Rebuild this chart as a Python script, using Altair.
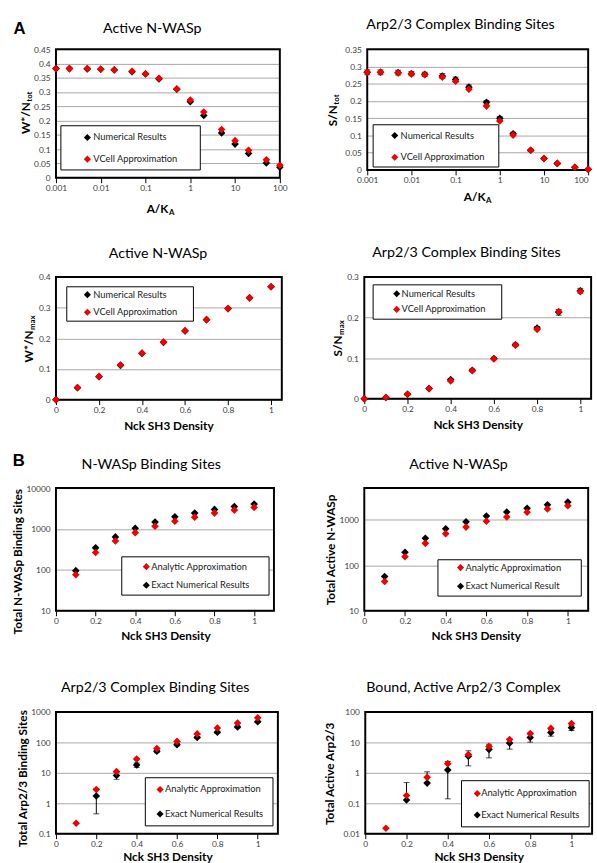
import altair as alt
import pandas as pd

TXT_FONT = "Lato"
LETTER_FONT = "Liberation Sans"
RED = "#f00000"
BLACK = "#000000"
GRID = "#a6a6a6"
LABEL = "#404040"

# ---------------- data ----------------
ak_ratio = [0.001, 0.002, 0.005, 0.01, 0.02, 0.05, 0.1, 0.2, 0.5, 1, 2, 5, 10, 20, 50, 100]
ak_ticks = [0.001, 0.01, 0.1, 1, 10, 100]

# A, top-left: Active N-WASp  (W*/Ntot)
wn_numerical = [0.382, 0.382, 0.381, 0.380, 0.377, 0.371, 0.363, 0.346, 0.310, 0.266, 0.218, 0.157, 0.118, 0.085, 0.052, 0.037]
wn_vcell = [0.382, 0.382, 0.382, 0.380, 0.378, 0.373, 0.364, 0.348, 0.311, 0.272, 0.230, 0.169, 0.130, 0.096, 0.063, 0.044]
wn_yticks = [0, 0.05, 0.1, 0.15, 0.2, 0.25, 0.3, 0.35, 0.4, 0.45]

# A, top-right: Arp2/3 Complex Binding Sites (S/Ntot)
sn_numerical = [0.283, 0.283, 0.282, 0.279, 0.277, 0.272, 0.262, 0.240, 0.196, 0.150, 0.105, 0.057, 0.033, 0.019, 0.008, 0.002]
sn_numerical_err = [0.007, 0.007, 0.007, 0.006, 0.006, 0.007, 0.007, 0.006, 0.005, 0.005, 0.004, 0.003, 0.002, 0.002, 0.001, 0.001]
sn_vcell = [0.283, 0.283, 0.281, 0.278, 0.276, 0.269, 0.257, 0.234, 0.185, 0.142, 0.101, 0.057, 0.033, 0.019, 0.008, 0.002]
sn_yticks = [0, 0.05, 0.1, 0.15, 0.2, 0.25, 0.3, 0.35]

nck_density = [0.0, 0.1, 0.2, 0.3, 0.4, 0.5, 0.6, 0.7, 0.8, 0.9, 1.0]
nck_ticks = [0, 0.2, 0.4, 0.6, 0.8, 1]

# A, second row left: Active N-WASp (W*/Nmax)
wmax_numerical = [0.0, 0.039, 0.075, 0.112, 0.151, 0.187, 0.224, 0.261, 0.297, 0.332, 0.368]
wmax_vcell = [0.0, 0.040, 0.076, 0.113, 0.152, 0.188, 0.225, 0.261, 0.297, 0.332, 0.368]
wmax_yticks = [0, 0.1, 0.2, 0.3, 0.4]

# A, second row right: Arp2/3 Complex Binding Sites (S/Nmax)
smax_numerical = [0.0, 0.003, 0.011, 0.025, 0.047, 0.070, 0.099, 0.133, 0.174, 0.213, 0.266]
smax_numerical_err = [0.0, 0.001, 0.002, 0.002, 0.003, 0.003, 0.003, 0.004, 0.004, 0.007, 0.006]
smax_vcell = [0.0, 0.003, 0.011, 0.025, 0.044, 0.069, 0.098, 0.132, 0.171, 0.215, 0.264]
smax_yticks = [0, 0.1, 0.2, 0.3]

nck_density_b = [0.1, 0.2, 0.3, 0.4, 0.5, 0.6, 0.7, 0.8, 0.9, 1.0]

# B: N-WASp Binding Sites
nws_analytic = [76, 267, 511, 814, 1170, 1545, 1950, 2450, 2900, 3370]
nws_exact = [96, 346, 641, 1040, 1475, 1990, 2450, 3010, 3560, 4060]
# B: Active N-WASp
anw_analytic = [44, 154, 305, 498, 694, 936, 1160, 1470, 1730, 2040]
anw_exact = [57, 194, 394, 638, 905, 1220, 1490, 1790, 2150, 2460]
# B: Arp2/3 Complex Binding Sites
arps_analytic = [0.22, 2.83, 11.0, 28.3, 62.5, 108, 190, 297, 431, 640]
arps_exact = [None, 1.73, 8.2, 18.1, 51, 84, 145, 215, 320, 475]
arps_exact_err = [0, 1.28, 2.1, 3.0, 5, 6, 10, 15, 20, 25]
# B: Bound, Active Arp2/3 Complex
aarp_analytic = [0.0152, 0.181, 0.71, 2.0, 4.0, 7.4, 12.5, 19.5, 29, 42]
aarp_exact = [None, 0.128, 0.46, 1.25, 3.5, 5.9, 9.5, 14.5, 21, 30.5]
aarp_exact_err = [0, 0.35, 0.62, 1.11, 1.8, 2.8, 3.5, 4.3, 5, 6]

ONE = pd.DataFrame({"k": [0]})
MARK_SIZE = 60


def txt(s, x, y, size, weight="normal", align="center", angle=0, dx=0, dy=0,
        font=TXT_FONT, color="#000000"):
    kw = dict(text=s, font=font, fontSize=size, fontWeight=weight, align=align,
              baseline="middle", color=color)
    if angle:
        kw["angle"] = angle
    if dx:
        kw["dx"] = dx
    if dy:
        kw["dy"] = dy
    return alt.Chart(ONE).mark_text(**kw).encode(x=alt.value(x), y=alt.value(y))


def x_title(p):
    t = p["xtitle"]
    if len(t) == 3:
        s, cx, cy = t
        return [txt(s, cx, cy, 12, "bold")]
    main, sub, cx, cy, wm, ws = t
    ax = cx - (wm + ws) / 2 + wm
    return [txt(main, ax, cy, 12, "bold", align="right"),
            txt(sub, ax + 0.5, cy, 8, "bold", align="left", dy=4)]


def y_title(p):
    t = p["ytitle"]
    if len(t) == 3:
        s, cx, cy = t
        return [txt(s, cx, cy, 12, "bold", angle=270)]
    main, sub, cx, cy, wm, ws = t
    ay = cy + (wm + ws) / 2 - wm
    return [txt(main, cx, ay, 12, "bold", align="right", angle=270),
            txt(sub, cx, ay, 8, "bold", align="left", angle=270, dx=0.5, dy=4)]


def make_panel(p):
    L, T, W, H = p["L"], p["T"], p["W"], p["H"]
    c0x, c0y, c1x, c1y = p["cell"]
    xs = alt.Scale(type=p["xtype"], domain=p["xdom"], nice=False, zero=False)
    ys = alt.Scale(type=p["ytype"], domain=p["ydom"], nice=False, zero=False)
    xax_kw = dict(values=p["xvals"], format="~g", title=None, grid=False, domain=False,
                  ticks=True, tickSize=5, tickColor="black", tickWidth=1,
                  labelFont=TXT_FONT, labelFontSize=8.5, labelColor=LABEL,
                  labelPadding=1, labelFlush=False, labelOverlap=False)
    if p.get("xalign_expr"):
        xax_kw["labelAlign"] = {"expr": p["xalign_expr"]}
    xax = alt.Axis(**xax_kw)
    yax = alt.Axis(values=p["yvals"], format="~g", title=None, grid=True, gridColor=GRID,
                   gridWidth=1, domain=False, ticks=False, labelPadding=6,
                   labelFont=TXT_FONT, labelFontSize=8.5, labelColor=LABEL,
                   labelOverlap=False)
    X = alt.X("x:Q", scale=xs, axis=xax)

    def Y(f):
        return alt.Y(f + ":Q", scale=ys, axis=yax)

    layers = []
    # invisible extent of this panel's cell in the page
    layers.append(alt.Chart(ONE).mark_rule(opacity=0, color="white").encode(
        x=alt.value(c0x - L), x2=alt.value(c1x - L), y=alt.value(c0y - T), y2=alt.value(c1y - T)))
    # plot-area frame
    layers.append(alt.Chart(ONE).mark_rect(fill="white", fillOpacity=0, stroke="black",
                                           strokeWidth=2).encode(
        x=alt.value(0), x2=alt.value(W), y=alt.value(0), y2=alt.value(H)))

    for s in p["series"]:
        df = pd.DataFrame({"x": p["x"], "y": pd.Series(s["y"], dtype="float")})
        if s.get("err") is not None:
            df["e"] = pd.Series(s["err"], dtype="float")
            df["hi"] = df["y"] + df["e"]
            df["lo"] = [yy - ee if yy - ee > 0 else yy for yy, ee in zip(df["y"], df["e"])]
            eb = alt.Chart(df).transform_filter("isValid(datum.y) && datum.e > 0")
            layers.append(eb.mark_rule(color="black", strokeWidth=1).encode(
                x=X, y=Y("lo"), y2=alt.Y2("hi:Q")))
            layers.append(eb.mark_tick(orient="horizontal", size=6, thickness=1,
                                       color="black").encode(x=X, y=Y("hi")))
            layers.append(eb.transform_filter("datum.y - datum.e > 0").mark_tick(
                orient="horizontal", size=6, thickness=1, color="black").encode(x=X, y=Y("lo")))
    for s in p["series"]:
        df = pd.DataFrame({"x": p["x"], "y": pd.Series(s["y"], dtype="float")})
        layers.append(alt.Chart(df).transform_filter("isValid(datum.y)").mark_point(
            shape="diamond", filled=True, size=MARK_SIZE, color=s["color"], opacity=1).encode(
            x=X, y=Y("y")))

    # legend box
    lg = p["legend"]
    bx0, by0, bx1, by1 = lg["box"]
    layers.append(alt.Chart(ONE).mark_rect(fill="white", stroke="black", strokeWidth=1).encode(
        x=alt.value(bx0), x2=alt.value(bx1), y=alt.value(by0), y2=alt.value(by1)))
    for ry, label, col in lg["rows"]:
        layers.append(alt.Chart(ONE).mark_point(shape="diamond", filled=True, size=MARK_SIZE - 8,
                                                color=col, opacity=1).encode(
            x=alt.value(lg["sx"]), y=alt.value(ry)))
        layers.append(txt(label, lg["tx"], ry, 9.5, align="left", color="#1a1a1a"))

    # titles
    tt, tx, ty = p["title"]
    layers.append(txt(tt, tx, ty, 14.5))
    layers += x_title(p)
    layers += y_title(p)
    if p.get("letter"):
        ls, lx, ly = p["letter"]
        layers.append(txt(ls, lx, ly, 17, "bold", font=LETTER_FONT))

    return alt.layer(*layers).properties(width=W, height=H)


panels = [
    dict(L=55, T=36, W=228, H=131, cell=(0, 0, 305, 220),
         xtype="log", xdom=[0.001, 100], xvals=ak_ticks,
         ytype="linear", ydom=[0, 0.45], yvals=wn_yticks, x=ak_ratio,
         series=[dict(y=wn_numerical, color=BLACK), dict(y=wn_vcell, color=RED)],
         title=("Active N-WASp", 98, -20),
         ytitle=("W*/N", "tot", -30, 64, 30, 10),
         xtitle=("A/K", "A", 107, 163, 21, 6),
         letter=("A", -37, -20),
         legend=dict(box=(5, 78, 147, 123), sx=32, tx=38,
                     rows=[(90, "Numerical Results", BLACK), (112, "VCell Approximation", RED)])),
    dict(L=370, T=41, W=225, H=123, cell=(305, 0, 597, 220),
         xtype="log", xdom=[0.001, 100], xvals=ak_ticks,
         xalign_expr="datum.value >= 100 ? 'right' : 'center'",
         ytype="linear", ydom=[0, 0.35], yvals=sn_yticks, x=ak_ratio,
         series=[dict(y=sn_numerical, color=BLACK, err=sn_numerical_err), dict(y=sn_vcell, color=RED)],
         title=("Arp2/3 Complex Binding Sites", 95, -25),
         ytitle=("S/N", "tot", -35, 62, 20, 10),
         xtitle=("A/K", "A", 113, 151, 21, 6),
         legend=dict(box=(6, 77, 134, 120), sx=28, tx=34,
                     rows=[(88, "Numerical Results", BLACK), (110, "VCell Approximation", RED)])),
    dict(L=49, T=265, W=230, H=125, cell=(0, 220, 305, 433),
         xtype="linear", xdom=[0, 1.05], xvals=nck_ticks,
         ytype="linear", ydom=[0, 0.4], yvals=wmax_yticks, x=nck_density,
         series=[dict(y=wmax_numerical, color=BLACK), dict(y=wmax_vcell, color=RED)],
         title=("Active N-WASp", 104, -23),
         ytitle=("W*/N", "max", -27, 62, 30, 15),
         xtitle=("Nck SH3 Density", 115, 152),
         legend=dict(box=(11, 10, 140, 45), sx=32, tx=38,
                     rows=[(18, "Numerical Results", BLACK), (36, "VCell Approximation", RED)])),
    dict(L=361, T=266, W=231, H=124, cell=(305, 220, 597, 433),
         xtype="linear", xdom=[0, 1.05], xvals=nck_ticks,
         ytype="linear", ydom=[0, 0.3], yvals=smax_yticks, x=nck_density,
         series=[dict(y=smax_numerical, color=BLACK, err=smax_numerical_err), dict(y=smax_vcell, color=RED)],
         title=("Arp2/3 Complex Binding Sites", 104, -24),
         ytitle=("S/N", "max", -27, 62, 20, 15),
         xtitle=("Nck SH3 Density", 116, 151),
         legend=dict(box=(9, 8, 140, 43), sx=33, tx=38,
                     rows=[(17, "Numerical Results", BLACK), (33, "VCell Approximation", RED)])),
    dict(L=56, T=478, W=222, H=125, cell=(0, 433, 305, 654),
         xtype="linear", xdom=[0, 1.1], xvals=nck_ticks,
         ytype="log", ydom=[10, 10000], yvals=[10, 100, 1000, 10000], x=nck_density_b,
         series=[dict(y=nws_exact, color=BLACK), dict(y=nws_analytic, color=RED)],
         title=("N-WASp Binding Sites", 97, -23),
         ytitle=("Total N-WASp Binding Sites", -39, 75),
         xtitle=("Nck SH3 Density", 112, 151),
         letter=("B", -38, -28),
         legend=dict(box=(67, 70, 217, 109), sx=92, tx=97,
                     rows=[(80, "Analytic Approximation", RED), (99, "Exact Numerical Results", BLACK)])),
    dict(L=368, T=478, W=228, H=125, cell=(305, 433, 597, 654),
         xtype="linear", xdom=[0, 1.1], xvals=nck_ticks,
         ytype="log", ydom=[10, 5000], yvals=[10, 100, 1000], x=nck_density_b,
         series=[dict(y=anw_exact, color=BLACK), dict(y=anw_analytic, color=RED)],
         title=("Active N-WASp", 96, -23),
         ytitle=("Total Active N-WASp", -34, 63),
         xtitle=("Nck SH3 Density", 114, 151),
         legend=dict(box=(75, 73, 221, 110), sx=98, tx=103,
                     rows=[(81, "Analytic Approximation", RED), (100, "Exact Numerical Result", BLACK)])),
    dict(L=52, T=704, W=226, H=124, cell=(0, 654, 305, 863),
         xtype="linear", xdom=[0, 1.1], xvals=nck_ticks,
         ytype="log", ydom=[0.1, 1000], yvals=[0.1, 1, 10, 100, 1000], x=nck_density_b,
         series=[dict(y=arps_exact, color=BLACK, err=arps_exact_err), dict(y=arps_analytic, color=RED)],
         title=("Arp2/3 Complex Binding Sites", 101, -24),
         ytitle=("Total Arp2/3 Binding Sites", -34, 68),
         xtitle=("Nck SH3 Density", 114, 148),
         legend=dict(box=(91, 67, 221, 116), sx=106, tx=111,
                     rows=[(79, "Analytic Approximation", RED), (104, "Exact Numerical Results", BLACK)])),
    dict(L=365, T=704, W=231, H=124, cell=(305, 654, 597, 863),
         xtype="linear", xdom=[0, 1.1], xvals=nck_ticks,
         ytype="log", ydom=[0.01, 100], yvals=[0.01, 0.1, 1, 10, 100], x=nck_density_b,
         series=[dict(y=aarp_exact, color=BLACK, err=aarp_exact_err), dict(y=aarp_analytic, color=RED)],
         title=("Bound, Active Arp2/3 Complex", 100, -24),
         ytitle=("Total Active Arp2/3", -36, 63),
         xtitle=("Nck SH3 Density", 116, 148),
         legend=dict(box=(98, 70, 228, 117), sx=114, tx=118,
                     rows=[(83, "Analytic Approximation", RED), (105, "Exact Numerical Results", BLACK)])),
]

rows = []
for i in range(4):
    rows.append(alt.hconcat(make_panel(panels[2 * i]), make_panel(panels[2 * i + 1]), spacing=0))

chart = alt.vconcat(*rows, spacing=0).properties(padding=0, background="white").configure_view(
    stroke="transparent")

chart.save("out.html", embed_options={"renderer": "svg", "actions": False})
